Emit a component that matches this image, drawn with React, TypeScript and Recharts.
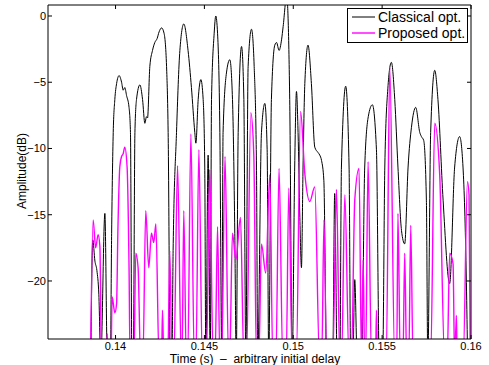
import { LineChart, Line, XAxis, YAxis, Legend } from 'recharts';

// nulls of the response fall far below the plotted floor
const FLOOR = -26;

// [time in ms, amplitude in dB]
const classicalPoints: [number, number][] = [
  [138.61, FLOOR], [138.72, -16.9], [138.84, -18.5], [138.95, -19.2], [139.06, -21.0], [139.17, FLOOR],
  [139.40, -14.9], [139.54, FLOOR], [139.71, FLOOR], [139.78, -16.4], [139.87, -8.8], [139.96, -6.3],
  [140.06, -5.1], [140.20, -4.5], [140.34, -5.0], [140.43, -5.6], [140.52, -5.4], [140.62, -6.0],
  [140.76, -6.9], [140.84, -8.8], [140.92, FLOOR], [141.00, FLOOR], [141.09, -8.8], [141.18, -6.3],
  [141.37, -5.2], [141.52, -6.3], [141.65, -8.1], [141.74, -7.6], [141.80, -7.7], [141.93, -3.8],
  [142.08, -2.6], [142.21, -2.0], [142.34, -1.7], [142.45, -1.2], [142.59, -0.9], [142.73, -1.3],
  [142.87, -3.8], [142.96, -8.8], [143.08, FLOOR], [143.17, FLOOR], [143.24, -17.7], [143.43, -8.8],
  [143.62, -2.6], [143.84, -0.6], [144.08, -2.6], [144.27, -5.4], [144.46, -8.8], [144.52, -9.6],
  [144.65, -6.3], [144.80, -4.8], [144.93, -6.3], [145.02, -11.4], [145.08, FLOOR], [145.21, -10.5],
  [145.33, FLOOR], [145.40, -6.3], [145.55, -1.3], [145.64, 0.0], [145.74, -1.3], [145.87, -8.8],
  [145.98, FLOOR], [146.05, -8.8], [146.24, -4.3], [146.43, -3.3], [146.58, -6.3], [146.71, -16.4],
  [146.79, FLOOR], [146.90, -8.8], [147.09, -2.3], [147.22, -6.3], [147.33, FLOOR], [147.46, -3.8],
  [147.65, -1.0], [147.80, -3.8], [147.93, -11.4], [148.00, FLOOR], [148.21, -8.8], [148.40, -6.6],
  [148.53, -10.1], [148.62, FLOOR], [148.77, -6.3], [148.96, -2.2], [149.06, -2.0], [149.20, -2.6],
  [149.34, -1.8], [149.43, -0.8], [149.63, 1.5], [149.80, -6.3], [149.94, FLOOR], [150.08, -11.4],
  [150.18, -5.7], [150.27, -8.8], [150.37, -15.2], [150.46, -19.0], [150.55, -11.4], [150.65, -5.1],
  [150.83, -2.2], [151.02, -5.1], [151.21, -9.9], [151.39, -10.3], [151.49, -10.5], [151.59, -10.9],
  [151.72, -12.4], [151.88, FLOOR], [152.22, FLOOR], [152.33, -13.4], [152.47, FLOOR], [152.62, FLOOR],
  [152.71, -11.4], [152.95, -5.3], [153.14, -11.4], [153.23, FLOOR], [153.35, FLOOR], [153.46, -19.9],
  [153.60, FLOOR], [153.85, FLOOR], [154.02, -11.4], [154.22, -7.6], [154.45, -6.7], [154.68, -10.1],
  [154.84, FLOOR], [155.03, FLOOR], [155.15, -11.4], [155.32, -5.5], [155.52, -3.5], [155.71, -6.3],
  [155.89, -11.4], [156.09, -16.2], [156.27, -17.2], [156.46, -11.4], [156.65, -8.4], [156.89, -6.9],
  [157.12, -8.8], [157.21, -9.1], [157.34, -9.4], [157.49, -13.9], [157.57, FLOOR], [157.73, -8.8],
  [157.96, -4.1], [158.14, -6.3], [158.43, -13.9], [158.80, -20.2], [159.08, -11.4], [159.36, -9.1],
  [159.55, -11.4], [159.74, -20.1], [159.81, FLOOR],
];

const proposedPoints: [number, number][] = [
  [138.59, FLOOR], [138.74, -15.4], [138.88, -17.5], [139.02, -16.5], [139.12, -17.4], [139.21, FLOOR],
  [139.48, FLOOR], [139.53, -24.0], [139.58, FLOOR], [139.74, FLOOR], [139.81, -21.2], [139.96, -22.4],
  [140.06, -21.7], [140.13, -16.4], [140.24, -11.4], [140.34, -10.6], [140.43, -10.4], [140.52, -9.9],
  [140.65, -11.4], [140.76, -19.0], [140.82, FLOOR], [141.03, FLOOR], [141.14, -17.9], [141.27, -19.0],
  [141.41, FLOOR], [141.54, FLOOR], [141.70, -14.7], [141.87, -19.0], [142.02, -16.4], [142.15, -17.1],
  [142.27, -15.7], [142.45, FLOOR], [142.59, FLOOR], [142.64, -22.2], [142.72, FLOOR], [142.94, FLOOR],
  [143.05, -17.7], [143.18, FLOOR], [143.28, FLOOR], [143.49, -11.3], [143.70, FLOOR], [143.74, FLOOR],
  [143.84, -14.7], [143.98, FLOOR], [144.06, FLOOR], [144.24, -8.9], [144.43, FLOOR], [144.52, FLOOR],
  [144.69, -10.1], [144.88, FLOOR], [145.11, FLOOR], [145.30, -11.6], [145.49, FLOOR], [145.60, FLOOR],
  [145.74, -15.9], [145.87, FLOOR], [145.97, FLOOR], [146.16, -10.6], [146.36, FLOOR], [146.42, FLOOR],
  [146.58, -16.4], [146.77, -18.4], [147.03, -15.2], [147.22, FLOOR], [147.37, FLOOR], [147.61, -7.3],
  [147.78, -10.5], [147.93, FLOOR], [148.06, FLOOR], [148.21, -17.2], [148.45, -19.4], [148.68, -12.0],
  [148.85, FLOOR], [149.02, FLOOR], [149.20, -11.5], [149.41, FLOOR], [149.60, FLOOR], [149.75, -13.0],
  [149.94, FLOOR], [150.17, FLOOR], [150.41, -7.2], [150.65, -11.9], [150.93, -14.0], [151.21, -12.9],
  [151.48, FLOOR], [151.60, FLOOR], [151.73, -15.4], [151.87, FLOOR], [152.22, FLOOR], [152.43, -13.1],
  [152.62, FLOOR], [152.72, FLOOR], [152.90, -13.5], [153.14, FLOOR], [153.27, FLOOR], [153.46, -13.9],
  [153.70, -11.5], [153.84, FLOOR], [153.93, -18.4], [154.02, FLOOR], [154.07, FLOOR], [154.21, -11.0],
  [154.40, FLOOR], [154.63, FLOOR], [154.68, -22.2], [154.74, FLOOR], [155.23, FLOOR], [155.43, -3.9],
  [155.71, FLOOR], [155.82, FLOOR], [155.89, -14.9], [156.02, FLOOR], [156.17, FLOOR], [156.27, -17.9],
  [156.38, FLOOR], [156.50, FLOOR], [156.61, -15.8], [156.74, FLOOR], [157.73, FLOOR], [157.96, -8.1],
  [158.24, -12.0], [158.52, FLOOR], [158.66, FLOOR], [158.80, -17.9], [158.99, -18.7], [159.08, FLOOR],
  [159.18, -22.6], [159.22, FLOOR], [159.56, FLOOR], [159.80, -12.5], [159.89, -13.5], [159.96, FLOOR],
];

const timeTicks = [0.14, 0.145, 0.15, 0.155, 0.16];
const ampTicks = [-20, -15, -10, -5, 0];
const timeDomain: [number, number] = [0.1362, 0.16];
const ampDomain: [number, number] = [-24.38, 0.83];

const series = [
  { name: 'Classical opt.', color: '#000000', width: 1, points: classicalPoints },
  { name: 'Proposed opt.', color: '#ff00ff', width: 1.4, points: proposedPoints },
];

const FONT = '"Liberation Sans", Arial, Helvetica, sans-serif';

const toRows = (pts: [number, number][]) => pts.map(([ms, db]) => ({ t: ms / 1000, db }));

const fmtAmp = (v: number) => (v < 0 ? '\u2212' + Math.abs(v) : String(v));

// axes are 1px thick (a 0px axis is not drawn), ticks point into the box like MATLAB
const BottomTick = ({ x, y, payload }: any) => (
  <g>
    <line x1={x} y1={y} x2={x} y2={y - 4} stroke="#000" />
    <text x={x} y={y + 11} textAnchor="middle" fontSize={11} fill="#000">
      {payload.value}
    </text>
  </g>
);

const TopTick = ({ x, y }: any) => <line x1={x} y1={y} x2={x} y2={y + 4} stroke="#000" />;

const LeftTick = ({ x, y, payload }: any) => (
  <g>
    <line x1={x} y1={y} x2={x + 4} y2={y} stroke="#000" />
    <text x={x - 2} y={y + 4} textAnchor="end" fontSize={11} fill="#000">
      {fmtAmp(payload.value)}
    </text>
  </g>
);

const RightTick = ({ x, y }: any) => <line x1={x} y1={y} x2={x - 4} y2={y} stroke="#000" />;

const LegendBox = () => (
  <div
    style={{
      border: '1px solid #000',
      background: '#fff',
      padding: '0 3px 1px 4px',
      fontSize: 14,
      lineHeight: '16px',
      fontFamily: FONT,
      color: '#000',
    }}
  >
    {series.map((s) => (
      <div key={s.name} style={{ display: 'flex', alignItems: 'center', height: 16 }}>
        <svg width={26} height={16} style={{ flex: 'none' }}>
          <line x1={0} y1={8} x2={23} y2={8} stroke={s.color} strokeWidth={s.width} />
        </svg>
        <span style={{ whiteSpace: 'nowrap' }}>{s.name}</span>
      </div>
    ))}
  </div>
);

export default function App() {
  return (
    <div style={{ position: 'absolute', left: 0, top: 0, width: 489, height: 365, background: '#fff', fontFamily: FONT }}>
      <LineChart width={489} height={365} margin={{ top: 4, right: 17, bottom: 25, left: 47 }} style={{ fontFamily: FONT }}>
        <XAxis
          dataKey="t"
          type="number"
          domain={timeDomain}
          ticks={timeTicks}
          allowDataOverflow
          height={1}
          tickSize={0}
          tickMargin={0}
          tickLine={false}
          axisLine={{ stroke: '#000' }}
          tick={(p: any) => <BottomTick {...p} />}
        />
        <XAxis
          xAxisId="top"
          orientation="top"
          dataKey="t"
          type="number"
          domain={timeDomain}
          ticks={timeTicks}
          allowDataOverflow
          height={1}
          tickSize={0}
          tickMargin={0}
          tickLine={false}
          axisLine={{ stroke: '#000' }}
          tick={(p: any) => <TopTick {...p} />}
        />
        <YAxis
          type="number"
          domain={ampDomain}
          ticks={ampTicks}
          allowDataOverflow
          width={1}
          tickSize={0}
          tickMargin={0}
          tickLine={false}
          axisLine={{ stroke: '#000' }}
          tick={(p: any) => <LeftTick {...p} />}
        />
        <YAxis
          yAxisId="right"
          orientation="right"
          type="number"
          domain={ampDomain}
          ticks={ampTicks}
          allowDataOverflow
          width={1}
          tickSize={0}
          tickMargin={0}
          tickLine={false}
          axisLine={{ stroke: '#000' }}
          tick={(p: any) => <RightTick {...p} />}
        />
        <Legend
          layout="horizontal"
          verticalAlign="middle"
          align="center"
          wrapperStyle={{ top: 8, left: 347, width: 121 }}
          content={() => <LegendBox />}
        />
        {series.map((s) => (
          <Line
            key={s.name}
            name={s.name}
            data={toRows(s.points)}
            dataKey="db"
            type="monotone"
            stroke={s.color}
            strokeWidth={s.width}
            dot={false}
            activeDot={false}
            isAnimationActive={false}
          />
        ))}
      </LineChart>
      <div
        style={{
          position: 'absolute',
          left: 22,
          top: 171,
          transform: 'translate(-50%, -50%) rotate(-90deg)',
          fontSize: 12,
          whiteSpace: 'nowrap',
          color: '#000',
        }}
      >
        Amplitude(dB)
      </div>
      <div
        style={{
          position: 'absolute',
          left: 255,
          top: 353,
          transform: 'translateX(-50%)',
          fontSize: 12,
          lineHeight: '12px',
          whiteSpace: 'pre',
          color: '#000',
        }}
      >
        {'Time (s)  \u2013  arbitrary initial delay'}
      </div>
    </div>
  );
}
